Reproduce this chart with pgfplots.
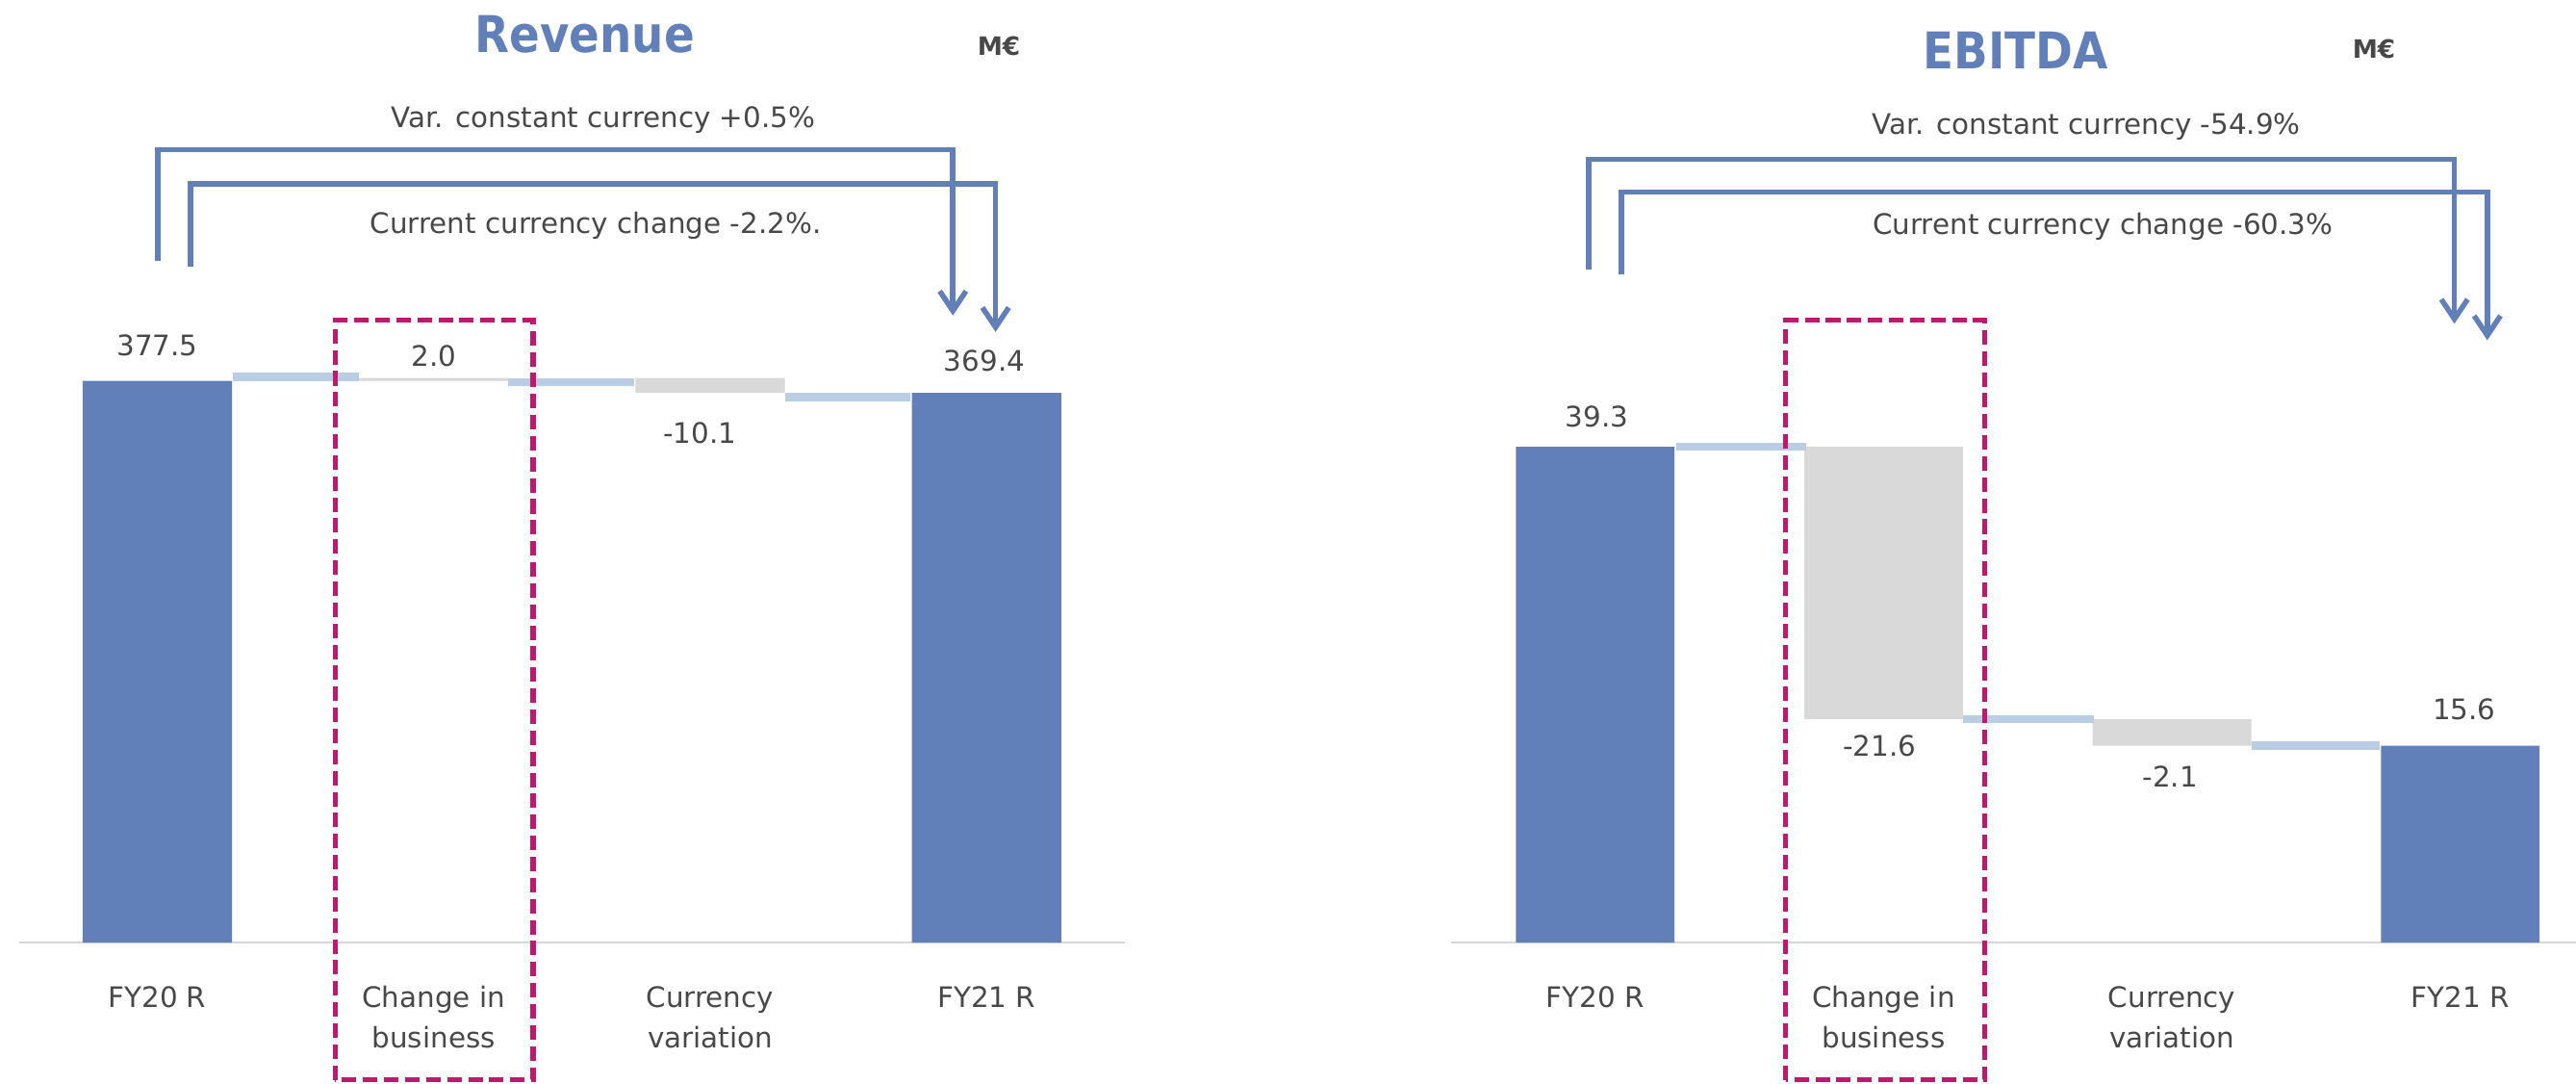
\documentclass[border=0pt]{standalone}
\usepackage{pgfplots}
\pgfplotsset{compat=1.18}
\usepackage{pgfplotstable}
\usetikzlibrary{arrows.meta}
\usepackage{fontspec}
\setmainfont{DejaVu Sans}
\newfontfamily\titlefont[FakeStretch=0.89]{DejaVu Sans}
\definecolor{barblue}{RGB}{97,127,185}
\definecolor{conblue}{RGB}{185,205,229}
\definecolor{stepgray}{RGB}{217,217,217}
\definecolor{axgray}{RGB}{214,214,214}
\definecolor{txt}{RGB}{72,72,72}
\definecolor{magen}{RGB}{192,24,108}
\newcommand\tl[1]{\begin{tabular}[t]{@{}c@{}}#1\end{tabular}}

\pgfplotstableread{
x base step total
0 0 0 377.5
1 377.5 2.0 0
2 369.4 10.1 0
3 0 0 369.4
}\revdata

\pgfplotstableread{
x base step total
0 0 0 39.3
1 17.7 21.6 0
2 15.6 2.1 0
3 0 0 15.6
}\ebitdata

\pgfplotsset{
  wf/.style={scale only axis, anchor=south west, ymin=0, xtick={0,1,2,3},
    ytick=\empty, axis y line=none, axis x line=bottom,
    axis line style={draw=axgray, line width=0.8pt, -},
    major tick length=0pt,
    xticklabels={\tl{FY20 R},\tl{Change in\\business},\tl{Currency\\variation},\tl{FY21 R}},
    xticklabel style={anchor=base, yshift=-19.75pt, font=\fontsize{8.6}{12.2}\selectfont, text=txt},
    ybar stacked, clip=false, enlargelimits=false},
  ov/.style={scale only axis, anchor=south west, ymin=0, hide axis, clip=false}
}
\tikzset{val/.style={anchor=base, inner sep=0pt, text=txt, font=\fontsize{8.6}{10}\selectfont}}

\begin{document}
\begin{tikzpicture}
\useasboundingbox (0,0) rectangle (784pt,329.5pt);

% ---------------- Revenue ----------------
\begin{axis}[wf, at={(5.81pt,42.75pt)}, width=336.5pt, height=239.9pt,
  xmin=-0.5, xmax=3.5, ymax=530, bar width=0.54]
\addplot[draw=none, fill=none] table[x=x, y=base]{\revdata};
\addplot[draw=none, fill=stepgray] table[x=x, y=step]{\revdata};
\addplot[draw=none, fill=barblue] table[x=x, y=total]{\revdata};
\end{axis}
\begin{axis}[ov, at={(5.81pt,42.75pt)}, width=336.5pt, height=239.9pt,
  xmin=-0.5, xmax=3.5, ymax=530]
\addplot[conblue, line width=2.45pt] coordinates {(0.275,380.2) (0.73,380.2)};
\addplot[conblue, line width=2.45pt] coordinates {(1.27,376.8) (1.725,376.8)};
\addplot[conblue, line width=2.45pt] coordinates {(2.27,366.7) (2.725,366.7)};
\end{axis}

% ---------------- EBITDA ----------------
\begin{axis}[wf, at={(441.6pt,42.75pt)}, width=342.3pt, height=237.96pt,
  xmin=-0.5, xmax=3.4, ymax=62, bar width=0.55]
\addplot[draw=none, fill=none] table[x=x, y=base]{\ebitdata};
\addplot[draw=none, fill=stepgray] table[x=x, y=step]{\ebitdata};
\addplot[draw=none, fill=barblue] table[x=x, y=total]{\ebitdata};
\end{axis}
\begin{axis}[ov, at={(441.6pt,42.75pt)}, width=342.3pt, height=237.96pt,
  xmin=-0.5, xmax=3.4, ymax=62]
\addplot[conblue, line width=2.45pt] coordinates {(0.28,39.3) (0.73,39.3)};
\addplot[conblue, line width=2.45pt] coordinates {(1.275,17.7) (1.73,17.7)};
\addplot[conblue, line width=2.45pt] coordinates {(2.275,15.6) (2.72,15.6)};
\end{axis}

% dashed highlight boxes
\draw[magen, line width=1.5pt, dash pattern=on 4.4pt off 2pt] (102pt,1pt) rectangle (162.25pt,232pt);
\draw[magen, line width=1.5pt, dash pattern=on 4.4pt off 2pt] (543.5pt,1pt) rectangle (604pt,232pt);

% brackets
\draw[barblue, line width=1.6pt, -{Straight Barb[length=6pt,width=8pt]}] (48pt,250pt) |- (290pt,284pt) -- (290pt,233.5pt);
\draw[barblue, line width=1.6pt, -{Straight Barb[length=6pt,width=8pt]}] (58pt,248.5pt) |- (303pt,273.5pt) -- (303pt,228.5pt);
\draw[barblue, line width=1.6pt, -{Straight Barb[length=6pt,width=8pt]}] (483.5pt,247.5pt) |- (747pt,281pt) -- (747pt,231pt);
\draw[barblue, line width=1.6pt, -{Straight Barb[length=6pt,width=8pt]}] (493.5pt,246pt) |- (757pt,271pt) -- (757pt,226pt);

% titles
\node[anchor=base, inner sep=0pt, text=barblue, font=\titlefont\bfseries\fontsize{15.4}{18}\selectfont] at (178pt,313.4pt) {Revenue};
\node[anchor=base, inner sep=0pt, text=barblue, font=\titlefont\bfseries\fontsize{15.4}{18}\selectfont] at (613.5pt,308.5pt) {EBITDA};
\node[anchor=base, inner sep=0pt, text=txt, font=\bfseries\fontsize{7.7}{9}\selectfont] at (304pt,312.7pt) {M€};
\node[anchor=base, inner sep=0pt, text=txt, font=\bfseries\fontsize{7.7}{9}\selectfont] at (722.5pt,311.9pt) {M€};

% bracket texts
\node[val] at (183.6pt,290.6pt) {Var. constant currency +0.5\%};
\node[val] at (181.3pt,258.4pt) {Current currency change -2.2\%.};
\node[val] at (635pt,288.7pt) {Var. constant currency -54.9\%};
\node[val] at (640pt,258.2pt) {Current currency change -60.3\%};

% value labels
\node[val] at (47.9pt,221.2pt) {377.5};
\node[val] at (132pt,218.2pt) {2.0};
\node[val] at (213pt,194.75pt) {-10.1};
\node[val] at (299.6pt,216.5pt) {369.4};
\node[val] at (486pt,199.65pt) {39.3};
\node[val] at (572pt,99.6pt) {-21.6};
\node[val] at (660.5pt,90.1pt) {-2.1};
\node[val] at (750pt,110.6pt) {15.6};
\end{tikzpicture}
\end{document}
